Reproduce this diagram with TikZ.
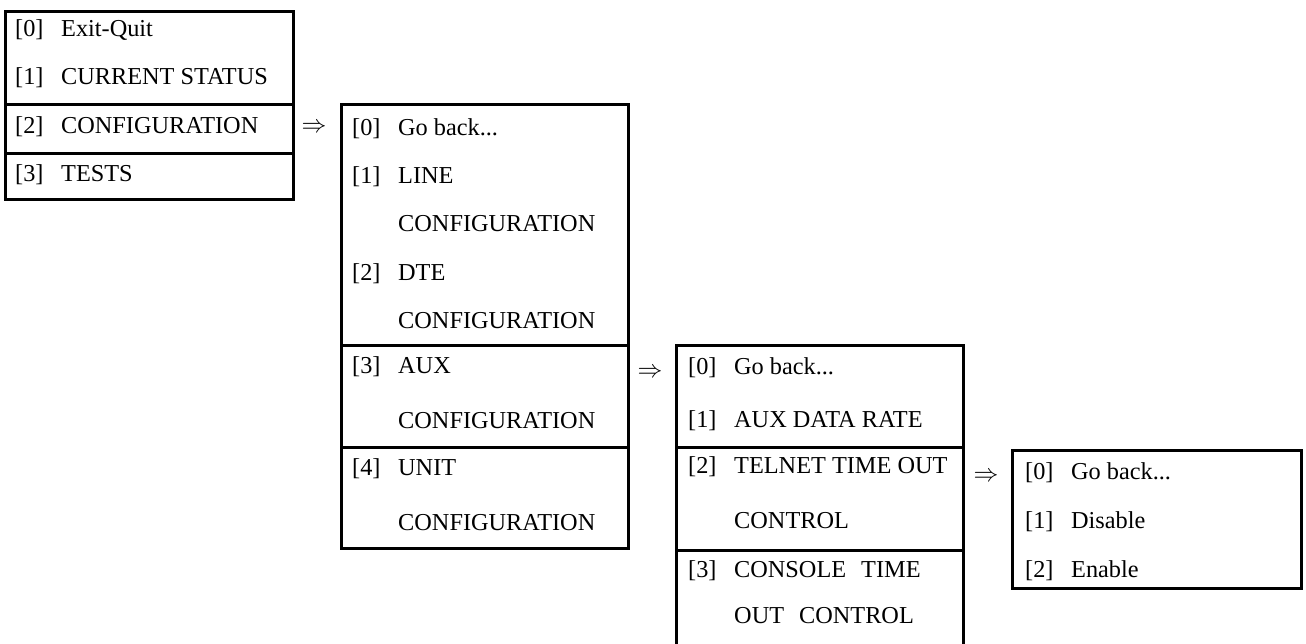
\documentclass[tikz,border=0pt]{standalone}
\usepackage{fontspec}
\setmainfont{Liberation Serif}
\newcommand\menufont{\fontsize{24.3}{28}\selectfont}
\newcommand\opt[2]{\makebox[46pt][l]{[#1]}#2}
\newcommand\wide{\hspace{15pt}}
\tikzset{
  menu/.style={draw, line width=3pt, inner sep=0pt, outer sep=0pt, anchor=north west},
  entry/.style={anchor=base west, inner sep=0pt, font=\menufont},
  goto/.style={anchor=center, inner sep=0pt, font=\fontsize{25}{28}\selectfont},
}
\begin{document}
\begin{tikzpicture}[x=1pt, y=-1pt]
\useasboundingbox (0,0) rectangle (1306,644);

% ---- main menu ----
\node[menu, minimum width=287.5pt, minimum height=93.3pt] (m1a) at (5.5,11.7) {};
\node[menu, minimum width=287.5pt, minimum height=49pt]   (m1b) at (5.5,105) {};
\node[menu, minimum width=287.5pt, minimum height=46pt]   (m1c) at (5.5,154) {};
\node[entry] (e10) at (15,37)  {\opt{0}{Exit-Quit}};
\node[entry] (e11) at (15,85)  {\opt{1}{CURRENT STATUS}};
\node[entry] (e12) at (15,134) {\opt{2}{CONFIGURATION}};
\node[entry] (e13) at (15,182) {\opt{3}{TESTS}};

% ---- configuration menu ----
\node[menu, minimum width=287pt, minimum height=240pt] (m2a) at (341,105) {};
\node[menu, minimum width=287pt, minimum height=102pt] (m2b) at (341,345) {};
\node[menu, minimum width=287pt, minimum height=101pt] (m2c) at (341,447) {};
\node[entry] (e20)  at (352,136) {\opt{0}{Go back...}};
\node[entry] (e21)  at (352,184) {\opt{1}{LINE}};
\node[entry] (e21b) at (398,232) {CONFIGURATION};
\node[entry] (e22)  at (352,280) {\opt{2}{DTE}};
\node[entry] (e22b) at (398,328) {CONFIGURATION};
\node[entry] (e23)  at (352,373) {\opt{3}{AUX}};
\node[entry] (e23b) at (398,428) {CONFIGURATION};
\node[entry] (e24)  at (352,475) {\opt{4}{UNIT}};
\node[entry] (e24b) at (398,530) {CONFIGURATION};

% ---- aux configuration menu ----
\node[menu, minimum width=287.5pt, minimum height=102pt] (m3a) at (676,345) {};
\node[menu, minimum width=287.5pt, minimum height=103pt] (m3b) at (676,447) {};
\coordinate (m3cl) at (676,644);
\coordinate (m3cr) at (963.5,644);
\draw[line width=3pt] (m3cl) -- (m3b.south west) -- (m3b.south east) -- (m3cr);
\node[entry] (e30)  at (688,374) {\opt{0}{Go back...}};
\node[entry] (e31)  at (688,427) {\opt{1}{AUX DATA RATE}};
\node[entry] (e32)  at (688,473) {\opt{2}{TELNET TIME OUT}};
\node[entry] (e32b) at (734,528) {CONTROL};
\node[entry] (e33)  at (688,577) {\opt{3}{CONSOLE\wide TIME}};
\node[entry] (e33b) at (734,623) {OUT\wide CONTROL};

% ---- time out control menu ----
\node[menu, minimum width=289pt, minimum height=138.5pt] (m4) at (1012.5,450) {};
\node[entry] (e40) at (1025,479) {\opt{0}{Go back...}};
\node[entry] (e41) at (1025,528) {\opt{1}{Disable}};
\node[entry] (e42) at (1025,577) {\opt{2}{Enable}};

% ---- submenu markers ----
\node[goto] (g1) at (314,128) {$\Rightarrow$};
\node[goto] (g2) at (650,373) {$\Rightarrow$};
\node[goto] (g3) at (986,477) {$\Rightarrow$};
\end{tikzpicture}
\end{document}
